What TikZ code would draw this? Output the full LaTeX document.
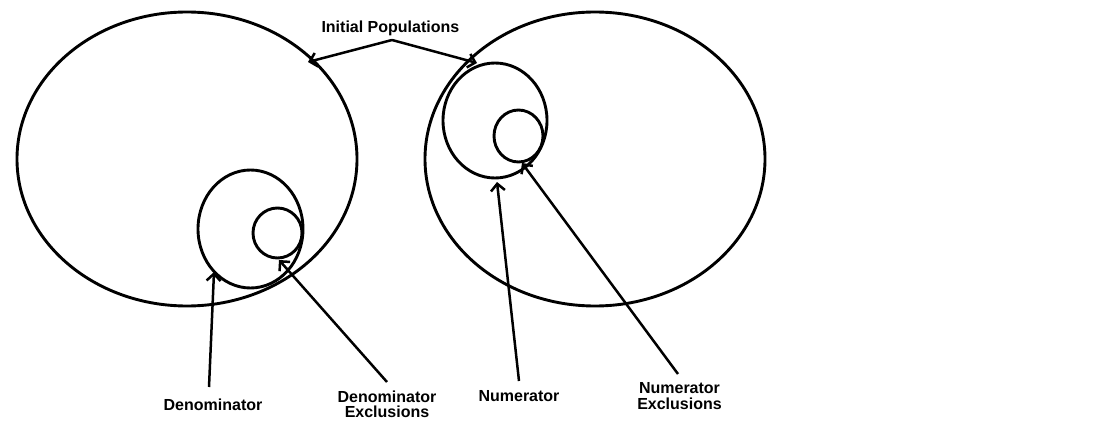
\documentclass[tikz,border=0pt]{standalone}
\usepackage{fontspec}
\setmainfont{Liberation Sans}
\usetikzlibrary{arrows.meta,shapes.geometric}
\begin{document}
\begin{tikzpicture}[x=1pt,y=-1pt,
  ring/.style={draw, ellipse, line width=2.9pt, inner sep=0pt, outer sep=0pt},
  pointer/.style={line width=2.5pt, -{Straight Barb[length=7pt,width=14pt,line width=2.5pt]}},
  lbl/.style={font=\bfseries\fontsize{16}{15.5}\selectfont, align=center, inner sep=0pt, anchor=north}]
\useasboundingbox (0,0) rectangle (1111,425);
% populations
\node[ring, minimum width=340pt, minimum height=294pt] (popL) at (187,159) {};
\node[ring, minimum width=340pt, minimum height=294pt] (popR) at (595,159) {};
% denominator
\node[ring, minimum width=105pt, minimum height=118pt] (den) at (250.5,229) {};
\node[ring, minimum width=49pt, minimum height=50pt] (denx) at (277.5,233) {};
% numerator
\node[ring, minimum width=104pt, minimum height=115pt] (num) at (495,120.5) {};
\node[ring, minimum width=49pt, minimum height=52pt] (numx) at (518.5,136) {};
% labels
\node[lbl] (tInit) at (390.4,20.5) {Initial Populations};
\node[lbl] (tDen) at (213,398.5) {Denominator};
\node[lbl] (tDenX) at (387,390.5) {Denominator\\Exclusions};
\node[lbl] (tNum) at (519,390.5) {Numerator};
\node[lbl] (tNumX) at (679.5,382.5) {Numerator\\Exclusions};
% connector ends
\coordinate (apex) at (392,40);
\coordinate (hitL) at (308,62);
\coordinate (hitR) at (477,63);
\coordinate (sDen) at (209,387);
\coordinate (eDen) at (214,272);
\coordinate (sDenX) at (387,382);
\coordinate (eDenX) at (279,260);
\coordinate (sNum) at (519,381);
\coordinate (eNum) at (497,182);
\coordinate (sNumX) at (678,374);
\coordinate (eNumX) at (522,163);
% connectors
\draw[pointer] (apex) -- (hitL);
\draw[pointer] (apex) -- (hitR);
\draw[pointer] (sDen) -- (eDen);
\draw[pointer] (sDenX) -- (eDenX);
\draw[pointer] (sNum) -- (eNum);
\draw[pointer] (sNumX) -- (eNumX);
\end{tikzpicture}
\end{document}
